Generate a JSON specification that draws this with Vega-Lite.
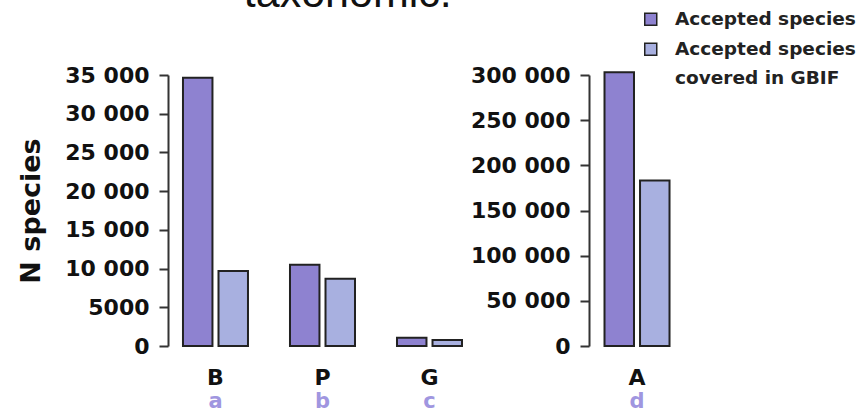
{
  "$schema": "https://vega.github.io/schema/vega-lite/v6.json",
  "background": "white",
  "padding": {"left": 17, "top": -27, "right": 0, "bottom": 4},
  "config": {
    "view": {"stroke": null},
    "font": "DejaVu Sans",
    "style": {"guide-label": {"lineHeight": 29}},
    "axis": {"labelFont": "DejaVu Sans", "labelFontWeight": "bold", "labelColor": "#111", "grid": false, "domainColor": "#333", "tickColor": "#333", "domainWidth": 2, "tickWidth": 2, "titleFont": "DejaVu Sans", "titleColor": "#111"}
  },
  "title": {"text": "taxonomic.", "font": "Liberation Sans", "fontSize": 43, "fontWeight": "normal", "color": "#111", "anchor": "start", "dx": 226, "offset": -6},
  "datasets": {
    "left": [
      {"group": "B", "series": "Accepted species", "value": 34650},
      {"group": "B", "series": "Accepted species covered in GBIF", "value": 9700},
      {"group": "P", "series": "Accepted species", "value": 10500},
      {"group": "P", "series": "Accepted species covered in GBIF", "value": 8700},
      {"group": "G", "series": "Accepted species", "value": 1050},
      {"group": "G", "series": "Accepted species covered in GBIF", "value": 780}
    ],
    "right": [
      {"group": "A", "series": "Accepted species", "value": 303000},
      {"group": "A", "series": "Accepted species covered in GBIF", "value": 183300}
    ]
  },
  "spacing": 2,
  "resolve": {"scale": {"color": "independent"}, "legend": {"color": "independent"}},
  "hconcat": [
    {
      "width": 300,
      "height": 271,
      "data": {"name": "left"},
      "layer": [
        {
          "mark": {"type": "bar", "stroke": "#222", "strokeWidth": 2},
          "encoding": {
            "x": {"field": "group", "type": "nominal", "sort": ["B", "P", "G"],
              "scale": {"paddingInner": 0.3925, "paddingOuter": 0.098, "align": 0.714},
              "axis": {"orient": "bottom", "title": null, "labelAngle": 0, "domain": false, "ticks": false, "labelPadding": 21, "labelFontSize": 22, "labelColor": "#111"}},
            "xOffset": {"field": "series", "type": "nominal", "sort": ["Accepted species", "Accepted species covered in GBIF"], "scale": {"paddingInner": 0.17, "paddingOuter": 0}},
            "y": {"field": "value", "type": "quantitative",
              "scale": {"domain": [0, 35000], "nice": false},
              "axis": {"values": [0, 5000, 10000, 15000, 20000, 25000, 30000, 35000], "labelExpr": "datum.value >= 10000 ? replace(format(datum.value, ','), ',', ' ') : format(datum.value, 'd')", "title": "N species", "titleFontSize": 27, "titleFontWeight": "bold", "titlePadding": 19, "tickSize": 9, "labelPadding": 10, "labelFontSize": 22}},
            "color": {"field": "series", "type": "nominal",
              "scale": {"domain": ["Accepted species", "Accepted species covered in GBIF"], "range": ["#8e82d0", "#a8b0e0"]},
              "legend": null}
          }
        },
        {
          "mark": {"type": "bar", "opacity": 0},
          "encoding": {
            "x": {"field": "group", "type": "nominal", "sort": ["B", "P", "G"],
              "axis": {"orient": "bottom", "title": null, "labelAngle": 0, "domain": false, "ticks": false, "labelPadding": 44, "labelFontSize": 21, "labelColor": "#a096e0", "labelExpr": "datum.label == 'B' ? 'a' : datum.label == 'P' ? 'b' : 'c'"}}
          }
        }
      ],
      "resolve": {"axis": {"x": "independent"}}
    },
    {
      "width": 96,
      "height": 271,
      "data": {"name": "right"},
      "layer": [
        {
          "mark": {"type": "bar", "stroke": "#222", "strokeWidth": 2},
          "encoding": {
            "x": {"field": "group", "type": "nominal",
              "scale": {"paddingInner": 0.3925, "paddingOuter": 0.145},
              "axis": {"orient": "bottom", "title": null, "labelAngle": 0, "domain": false, "ticks": false, "labelPadding": 21, "labelFontSize": 22, "labelColor": "#111"}},
            "xOffset": {"field": "series", "type": "nominal", "sort": ["Accepted species", "Accepted species covered in GBIF"], "scale": {"paddingInner": 0.17, "paddingOuter": 0}},
            "y": {"field": "value", "type": "quantitative",
              "scale": {"domain": [0, 300000], "nice": false},
              "axis": {"values": [0, 50000, 100000, 150000, 200000, 250000, 300000], "labelExpr": "datum.value >= 10000 ? replace(format(datum.value, ','), ',', ' ') : format(datum.value, 'd')", "title": null, "tickSize": 9, "labelPadding": 10, "labelFontSize": 22}},
            "color": {"field": "series", "type": "nominal",
              "scale": {"domain": ["Accepted species", "Accepted species covered in GBIF"], "range": ["#8e82d0", "#a8b0e0"]},
              "legend": {"orient": "none", "legendX": 52.5, "legendY": -65, "title": null, "padding": 0, "symbolType": "square", "symbolSize": 144, "symbolStrokeColor": "#222", "symbolStrokeWidth": 1.5, "symbolOpacity": 1, "labelFont": "DejaVu Sans", "labelFontWeight": "bold", "labelFontSize": 18.5, "labelColor": "#222", "labelOffset": 15, "rowPadding": 11, "labelLimit": 400,
                "labelExpr": "datum.label == 'Accepted species' ? 'Accepted species' : ['Accepted species', 'covered in GBIF']"}}
          }
        },
        {
          "mark": {"type": "bar", "opacity": 0},
          "encoding": {
            "x": {"field": "group", "type": "nominal",
              "axis": {"orient": "bottom", "title": null, "labelAngle": 0, "domain": false, "ticks": false, "labelPadding": 44, "labelFontSize": 21, "labelColor": "#a096e0", "labelExpr": "'d'"}}
          }
        }
      ],
      "resolve": {"axis": {"x": "independent"}}
    }
  ]
}
